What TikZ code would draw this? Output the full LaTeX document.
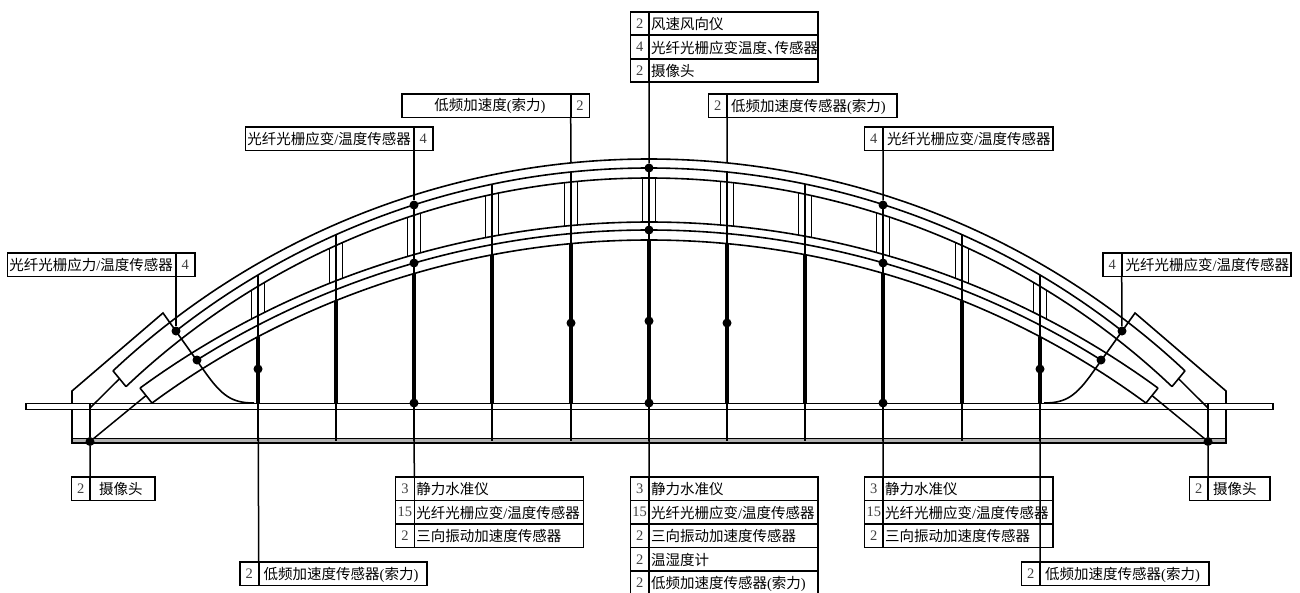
\documentclass[tikz,border=0pt]{standalone}
\usepackage{fontspec}
\usetikzlibrary{calc}
\setmainfont{Liberation Serif}
\newfontfamily\cjk{Noto Sans CJK SC}
\newcommand{\zh}[1]{{\cjk #1}}
\tikzset{
  declare function={arcy(\x,\t,\r)=\t+100*(\r-sqrt(\r*\r-((\x-649)/100)^2));},
  ln/.style={line width=1.6pt,line join=miter},
  thin ln/.style={line width=1.5pt},
  post/.style={line width=1.8pt},
  hanger/.style={line width=3.8pt},
  dot/.style={circle,fill=black,draw=none,minimum size=9pt,inner sep=0pt},
  cellbase/.style={draw=black,line width=1.6pt,anchor=north west,inner sep=0pt,outer sep=0pt,minimum height=23.5pt,font=\fontsize{14.5pt}{16pt}\selectfont},
  numcell/.style={cellbase,minimum width=18.7pt,text=black!75},
  txtcell/.style={cellbase,align=left,text depth=0pt},
}
% name x y width text
\newcommand{\tcell}[5]{\node[txtcell,text width=#4pt-4pt,inner xsep=2pt] (#1) at (#2,#3) {#5};}
\newcommand{\ccell}[5]{\node[cellbase,align=center,minimum width=#4pt] (#1) at (#2,#3) {#5};}
\newcommand{\ncell}[4]{\node[numcell] (#1) at (#2,#3) {#4};}
\begin{document}
\begin{tikzpicture}[x=1pt,y=-1pt]
\useasboundingbox (0,0) rectangle (1300,592);
\fill[white] (0,0) rectangle (1300,592);

% abutments and bottom beam
\draw[ln] (72,439) -- (72,391) -- (163,313) -- (205,372)
  .. controls (222,396) and (232,403) .. (254,403);
\draw[ln] (1226,439) -- (1226,391) -- (1135,313) -- (1093,372)
  .. controls (1076,396) and (1066,403) .. (1044,403);
\draw[ln,fill=black!30] (72,438.6) rectangle (1226,443);
\draw[ln,fill=white] (25.7,403.3) rectangle (1273,409.6);

% arches
\foreach \t/\r/\a/\b in {159/7.84/113/1185,168/7.68/176/1122,178/7.60/126/1172,222/8.63/140/1158,230/8.51/197/1101,240/8.39/152/1146}
  \draw[ln] plot[domain=\a:\b,samples=90,smooth] (\x,{arcy(\x,\t,\r)});

% named ends of the arches
\coordinate (ua) at (113,{arcy(113,159,7.84)});
\coordinate (ub) at (126,{arcy(126,178,7.60)});
\coordinate (uc) at (1185,{arcy(1185,159,7.84)});
\coordinate (ud) at (1172,{arcy(1172,178,7.60)});
\coordinate (la) at (140,{arcy(140,222,8.63)});
\coordinate (lb) at (152,{arcy(152,240,8.39)});
\coordinate (lc) at (1158,{arcy(1158,222,8.63)});
\coordinate (ld) at (1146,{arcy(1146,240,8.39)});
\draw[ln] (ua) -- (ub);
\draw[ln] (uc) -- (ud);
\draw[ln] (la) -- (lb);
\draw[ln] (lc) -- (ld);
\coordinate (foot1) at (90,408);
\coordinate (foot2) at (1208,408);
\draw[thin ln] ($(ua)!0.5!(ub)$) -- (foot1);
\draw[thin ln] ($(uc)!0.5!(ud)$) -- (foot2);

% posts between arches
\foreach \h in {258,336,414,492,571,649,727,805,883,962,1040}{
  \foreach \s in {-6.5,6.5}{
    \pgfmathsetmacro{\px}{\h+\s}
    \draw[post] (\px,{arcy(\px,178,7.60)}) -- (\px,{arcy(\px,222,8.63)});
  }
  \draw[thin ln] (\h,{arcy(\h,168,7.68)}) -- (\h,441);
  \draw[hanger] (\h,{arcy(\h,240,8.39)}) -- (\h,403);
}

% dots
\node[dot] (d1) at (176,331) {};
\node[dot] (d2) at (197,360) {};
\node[dot] (d3) at (258,369) {};
\node[dot] (d4) at (414,205) {};
\node[dot] (d5) at (414,263) {};
\node[dot] (d6) at (414,403) {};
\node[dot] (d7) at (571,323) {};
\node[dot] (d8) at (649,168) {};
\node[dot] (d9) at (649,230) {};
\node[dot] (d10) at (649,321) {};
\node[dot] (d11) at (649,403) {};
\node[dot] (d12) at (727,323) {};
\node[dot] (d13) at (883,205) {};
\node[dot] (d14) at (883,263) {};
\node[dot] (d15) at (883,403) {};
\node[dot] (d16) at (1040,369) {};
\node[dot] (d17) at (1101,360) {};
\node[dot] (d18) at (1122,331) {};
\node[dot] (d19) at (90,441.5) {};
\node[dot] (d20) at (1208,441.5) {};
\coordinate (top1) at (90,403);
\coordinate (top2) at (1208,403);
\draw[thin ln] (top1) -- (d19);
\draw[thin ln] (top2) -- (d20);
\draw[thin ln] (d19) -- ($(la)!0.5!(lb)$);
\draw[thin ln] (d20) -- ($(lc)!0.5!(ld)$);
\coordinate (t1) at (571,{arcy(571,159,7.84)});
\coordinate (t2) at (727,{arcy(727,159,7.84)});

% top table
\ncell{a1}{630.3}{11.7}{2}
\tcell{a1t}{649}{11.7}{168.7}{\zh{风速风向仪}}
\ncell{a2}{630.3}{35.2}{4}
\tcell{a2t}{649}{35.2}{168.7}{\zh{光纤光栅应变温度、\hspace*{-7pt}传感器}}
\ncell{a3}{630.3}{58.7}{2}
\tcell{a3t}{649}{58.7}{168.7}{\zh{摄像头}}
\draw[thin ln] (a3.south east) -- (d8);

\ccell{b1t}{402}{94}{168.7}{\hspace*{7pt}\zh{低频加速度}(\zh{索力})}
\ncell{b1}{570.7}{94}{2}
\draw[thin ln] (b1.south west) -- (t1);
\ncell{b2}{708.3}{94}{2}
\tcell{b2t}{727}{94}{169.7}{\hspace*{2pt}\zh{低频加速度传感器}(\zh{索力})}
\draw[thin ln] (b2.south east) -- (t2);

\tcell{c1t}{245.3}{127}{168.7}{\zh{光纤光栅应变}/\zh{温度传感器}}
\ncell{c1}{414}{127}{4}
\draw[thin ln] (c1.south west) -- (d4);
\ncell{c2}{864.5}{127}{4}
\tcell{c2t}{883.2}{127}{169.8}{\hspace*{2pt}\zh{光纤光栅应变}/\zh{温度传感器}}
\draw[thin ln] (c2.south east) -- (d13);

\tcell{e1t}{7.3}{253}{168.7}{\zh{光纤光栅应力}/\zh{温度传感器}}
\ncell{e1}{176}{253}{4}
\draw[thin ln] (e1.south west) -- (d1);
\ncell{e2}{1103}{253}{4}
\tcell{e2t}{1121.7}{253}{169.3}{\hspace*{2pt}\zh{光纤光栅应变}/\zh{温度传感器}}
\draw[thin ln] (e2.south east) -- (d18);

% bottom tables
\ncell{f}{71.5}{477}{2}
\tcell{ft}{90}{477}{65}{\hspace*{7pt}\zh{摄像头}}
\draw[thin ln] (d19) -- (f.north east);
\ncell{g}{1189.3}{477}{2}
\tcell{gt}{1208}{477}{62}{\hspace*{3pt}\zh{摄像头}}
\draw[thin ln] (d20) -- (g.north east);

\ncell{h1}{395.6}{477}{3}
\tcell{h1t}{414.3}{477}{169}{\zh{静力水准仪}}
\ncell{h2}{395.6}{500.5}{15}
\tcell{h2t}{414.3}{500.5}{169}{\zh{光纤光栅应变}/\zh{温度传感器}}
\ncell{h3}{395.6}{524}{2}
\tcell{h3t}{414.3}{524}{169}{\zh{三向振动加速度传感器}}
\draw[thin ln] (d6) -- (h1.north east);

\ncell{i1}{630.3}{477}{3}
\tcell{i1t}{649}{477}{168.7}{\zh{静力水准仪}}
\ncell{i2}{630.3}{500.5}{15}
\tcell{i2t}{649}{500.5}{168.7}{\zh{光纤光栅应变}/\zh{温度传感器}}
\ncell{i3}{630.3}{524}{2}
\tcell{i3t}{649}{524}{168.7}{\zh{三向振动加速度传感器}}
\ncell{i4}{630.3}{547.5}{2}
\tcell{i4t}{649}{547.5}{168.7}{\zh{温湿度计}}
\ncell{i5}{630.3}{571}{2}
\tcell{i5t}{649}{571}{168.7}{\zh{低频加速度传感器}(\zh{索力})}
\draw[thin ln] (d11) -- (i1.north east);

\ncell{j1}{864.5}{477}{3}
\tcell{j1t}{883.2}{477}{169.8}{\zh{静力水准仪}}
\ncell{j2}{864.5}{500.5}{15}
\tcell{j2t}{883.2}{500.5}{169.8}{\zh{光纤光栅应变}/\zh{温度传感器}}
\ncell{j3}{864.5}{524}{2}
\tcell{j3t}{883.2}{524}{169.8}{\zh{三向振动加速度传感器}}
\draw[thin ln] (d15) -- (j1.north east);

\ncell{k}{240}{562}{2}
\tcell{kt}{258.7}{562}{168.3}{\hspace*{3pt}\zh{低频加速度传感器}(\zh{索力})}
\draw[thin ln] (d3) -- (k.north east);
\ncell{m}{1021.5}{562}{2}
\tcell{mt}{1040.2}{562}{168.8}{\hspace*{3pt}\zh{低频加速度传感器}(\zh{索力})}
\draw[thin ln] (d16) -- (m.north east);
\end{tikzpicture}
\end{document}
